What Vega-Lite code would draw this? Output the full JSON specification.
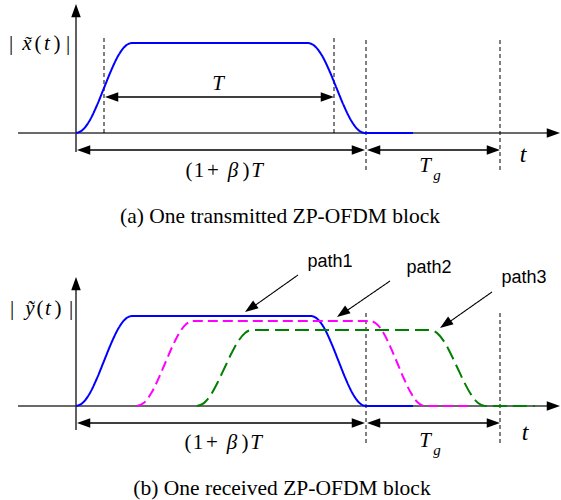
{
  "$schema": "https://vega.github.io/schema/vega-lite/v6.json",
  "width": 561,
  "height": 500,
  "padding": 0,
  "autosize": {"type": "fit", "contains": "padding"},
  "background": "white",
  "config": {"view": {"stroke": null}},
  "resolve": {"scale": {"color": "independent", "strokeDash": "independent", "strokeWidth": "independent", "angle": "independent"}},
  "datasets": {
    "curves": [
      {"s": "a_blue", "x": 76, "y": 133}, {"s": "a_blue", "x": 83, "y": 129.6}, {"s": "a_blue", "x": 90, "y": 119.9}, {"s": "a_blue", "x": 97, "y": 105.2}, {"s": "a_blue", "x": 104, "y": 88}, {"s": "a_blue", "x": 111, "y": 70.8}, {"s": "a_blue", "x": 118, "y": 56.1}, {"s": "a_blue", "x": 125, "y": 46.4}, {"s": "a_blue", "x": 132, "y": 43},
      {"s": "a_blue", "x": 308, "y": 43}, {"s": "a_blue", "x": 315.1, "y": 46.4}, {"s": "a_blue", "x": 322.3, "y": 56.1}, {"s": "a_blue", "x": 329.4, "y": 70.8}, {"s": "a_blue", "x": 336.5, "y": 88}, {"s": "a_blue", "x": 343.6, "y": 105.2}, {"s": "a_blue", "x": 350.8, "y": 119.9}, {"s": "a_blue", "x": 357.9, "y": 129.6}, {"s": "a_blue", "x": 365, "y": 133}, {"s": "a_blue", "x": 413, "y": 133},
      {"s": "b_blue", "x": 76, "y": 406}, {"s": "b_blue", "x": 83, "y": 402.6}, {"s": "b_blue", "x": 90, "y": 392.9}, {"s": "b_blue", "x": 97, "y": 378.2}, {"s": "b_blue", "x": 104, "y": 361}, {"s": "b_blue", "x": 111, "y": 343.8}, {"s": "b_blue", "x": 118, "y": 329.1}, {"s": "b_blue", "x": 125, "y": 319.4}, {"s": "b_blue", "x": 132, "y": 316},
      {"s": "b_blue", "x": 311, "y": 316}, {"s": "b_blue", "x": 317.9, "y": 319.4}, {"s": "b_blue", "x": 324.8, "y": 329.1}, {"s": "b_blue", "x": 331.6, "y": 343.8}, {"s": "b_blue", "x": 338.5, "y": 361}, {"s": "b_blue", "x": 345.4, "y": 378.2}, {"s": "b_blue", "x": 352.3, "y": 392.9}, {"s": "b_blue", "x": 359.1, "y": 402.6}, {"s": "b_blue", "x": 366, "y": 406}, {"s": "b_blue", "x": 413, "y": 406},
      {"s": "b_mag", "x": 137, "y": 406}, {"s": "b_mag", "x": 144, "y": 402.8}, {"s": "b_mag", "x": 151, "y": 393.6}, {"s": "b_mag", "x": 158, "y": 379.7}, {"s": "b_mag", "x": 165, "y": 363.5}, {"s": "b_mag", "x": 172, "y": 347.3}, {"s": "b_mag", "x": 179, "y": 333.4}, {"s": "b_mag", "x": 186, "y": 324.2}, {"s": "b_mag", "x": 193, "y": 321},
      {"s": "b_mag", "x": 370, "y": 321}, {"s": "b_mag", "x": 376.9, "y": 324.2}, {"s": "b_mag", "x": 383.8, "y": 333.4}, {"s": "b_mag", "x": 390.6, "y": 347.3}, {"s": "b_mag", "x": 397.5, "y": 363.5}, {"s": "b_mag", "x": 404.4, "y": 379.7}, {"s": "b_mag", "x": 411.3, "y": 393.6}, {"s": "b_mag", "x": 418.1, "y": 402.8}, {"s": "b_mag", "x": 425, "y": 406}, {"s": "b_mag", "x": 468, "y": 406},
      {"s": "b_green", "x": 197, "y": 406}, {"s": "b_green", "x": 203.9, "y": 403.1}, {"s": "b_green", "x": 210.8, "y": 394.9}, {"s": "b_green", "x": 217.6, "y": 382.5}, {"s": "b_green", "x": 224.5, "y": 368}, {"s": "b_green", "x": 231.4, "y": 353.5}, {"s": "b_green", "x": 238.3, "y": 341.1}, {"s": "b_green", "x": 245.1, "y": 332.9}, {"s": "b_green", "x": 252, "y": 330},
      {"s": "b_green", "x": 430, "y": 330}, {"s": "b_green", "x": 436.9, "y": 332.9}, {"s": "b_green", "x": 443.8, "y": 341.1}, {"s": "b_green", "x": 450.6, "y": 353.5}, {"s": "b_green", "x": 457.5, "y": 368}, {"s": "b_green", "x": 464.4, "y": 382.5}, {"s": "b_green", "x": 471.3, "y": 394.9}, {"s": "b_green", "x": 478.1, "y": 403.1}, {"s": "b_green", "x": 485, "y": 406}, {"s": "b_green", "x": 535, "y": 406}
    ],
    "segs": [
      {"k": "axis", "x": 76, "y": 152, "x2": 76, "y2": 16},
      {"k": "axis", "x": 18, "y": 133, "x2": 547, "y2": 133},
      {"k": "dash", "x": 104, "y": 38, "x2": 104, "y2": 133},
      {"k": "dash", "x": 334, "y": 38, "x2": 334, "y2": 133},
      {"k": "dash", "x": 366, "y": 40, "x2": 366, "y2": 170},
      {"k": "dash", "x": 500, "y": 40, "x2": 500, "y2": 170},
      {"k": "arrow", "x": 110, "y": 97, "x2": 328, "y2": 97},
      {"k": "arrow", "x": 82, "y": 150, "x2": 360, "y2": 150},
      {"k": "arrow", "x": 372, "y": 150, "x2": 494, "y2": 150},
      {"k": "axis", "x": 76, "y": 430, "x2": 76, "y2": 289},
      {"k": "axis", "x": 18, "y": 406, "x2": 547, "y2": 406},
      {"k": "dash", "x": 366, "y": 313, "x2": 366, "y2": 443},
      {"k": "dash", "x": 500, "y": 313, "x2": 500, "y2": 443},
      {"k": "arrow", "x": 82, "y": 423, "x2": 360, "y2": 423},
      {"k": "arrow", "x": 372, "y": 423, "x2": 494, "y2": 423},
      {"k": "ptr", "x": 298, "y": 275, "x2": 250, "y2": 309},
      {"k": "ptr", "x": 390, "y": 281, "x2": 342, "y2": 314},
      {"k": "ptr", "x": 492, "y": 292, "x2": 445, "y2": 325}
    ],
    "heads": [
      {"d": "up", "x": 76, "y": 4},
      {"d": "right", "x": 560, "y": 133},
      {"d": "left", "x": 105, "y": 97},
      {"d": "right", "x": 334, "y": 97},
      {"d": "left", "x": 77, "y": 150},
      {"d": "right", "x": 365, "y": 150},
      {"d": "left", "x": 367, "y": 150},
      {"d": "right", "x": 500, "y": 150},
      {"d": "up", "x": 76, "y": 277},
      {"d": "right", "x": 560, "y": 406},
      {"d": "left", "x": 77, "y": 423},
      {"d": "right", "x": 365, "y": 423},
      {"d": "left", "x": 367, "y": 423},
      {"d": "right", "x": 500, "y": 423},
      {"d": "diag", "x": 245, "y": 312},
      {"d": "diag", "x": 337, "y": 317},
      {"d": "diag", "x": 440, "y": 328}
    ],
    "texts": [
      {"f": "up", "x": 11, "y": 50, "t": "|"},
      {"f": "up", "x": 38, "y": 50, "t": "("},
      {"f": "up", "x": 57, "y": 50, "t": ")"},
      {"f": "up", "x": 68, "y": 50, "t": "|"},
      {"f": "it", "x": 27, "y": 50, "t": "x̃"},
      {"f": "it", "x": 47, "y": 50, "t": "t"},
      {"f": "it", "x": 218, "y": 90, "t": "T"},
      {"f": "up", "x": 189, "y": 177, "t": "("},
      {"f": "up", "x": 199, "y": 177, "t": "1"},
      {"f": "up", "x": 213, "y": 177, "t": "+"},
      {"f": "it", "x": 233, "y": 177, "t": "β"},
      {"f": "up", "x": 246, "y": 177, "t": ")"},
      {"f": "it", "x": 257, "y": 177, "t": "T"},
      {"f": "it", "x": 425, "y": 172, "t": "T"},
      {"f": "sub", "x": 437, "y": 180, "t": "g"},
      {"f": "big", "x": 523, "y": 162, "t": "t"},
      {"f": "up", "x": 12, "y": 315, "t": "|"},
      {"f": "up", "x": 40, "y": 315, "t": "("},
      {"f": "up", "x": 58, "y": 315, "t": ")"},
      {"f": "up", "x": 71, "y": 315, "t": "|"},
      {"f": "it", "x": 30, "y": 315, "t": "ỹ"},
      {"f": "it", "x": 48, "y": 315, "t": "t"},
      {"f": "up", "x": 188, "y": 449, "t": "("},
      {"f": "up", "x": 198, "y": 449, "t": "1"},
      {"f": "up", "x": 212, "y": 449, "t": "+"},
      {"f": "it", "x": 232, "y": 449, "t": "β"},
      {"f": "up", "x": 245, "y": 449, "t": ")"},
      {"f": "it", "x": 256, "y": 449, "t": "T"},
      {"f": "it", "x": 425, "y": 447, "t": "T"},
      {"f": "sub", "x": 437, "y": 455, "t": "g"},
      {"f": "big", "x": 525, "y": 440, "t": "t"},
      {"f": "sans", "x": 330, "y": 267, "t": "path1"},
      {"f": "sans", "x": 429, "y": 273, "t": "path2"},
      {"f": "sans", "x": 524, "y": 283, "t": "path3"},
      {"f": "cap", "x": 280, "y": 223, "t": "(a)  One transmitted ZP-OFDM block"},
      {"f": "cap", "x": 282, "y": 495, "t": "(b)  One received ZP-OFDM block"}
    ]
  },
  "layer": [
    {
      "data": {"name": "segs"},
      "mark": {"type": "rule"},
      "encoding": {
        "x": {"field": "x", "type": "quantitative", "scale": {"domain": [0, 561], "nice": false, "zero": false}, "axis": null},
        "y": {"field": "y", "type": "quantitative", "scale": {"domain": [0, 500], "reverse": true, "nice": false, "zero": false}, "axis": null},
        "x2": {"field": "x2"},
        "y2": {"field": "y2"},
        "color": {"field": "k", "type": "nominal", "scale": {"domain": ["axis", "dash", "arrow", "ptr"], "range": ["#3a3a3a", "#000000", "#000000", "#000000"]}, "legend": null},
        "strokeDash": {"field": "k", "type": "nominal", "scale": {"domain": ["axis", "dash", "arrow", "ptr"], "range": [[1, 0], [4, 3], [1, 0], [1, 0]]}, "legend": null},
        "strokeWidth": {"field": "k", "type": "nominal", "scale": {"type": "ordinal", "domain": ["axis", "dash", "arrow", "ptr"], "range": [1.6, 1, 1.3, 1.1]}, "legend": null}
      }
    },
    {
      "data": {"name": "curves"},
      "mark": {"type": "line", "interpolate": "monotone", "strokeWidth": 2},
      "encoding": {
        "x": {"field": "x", "type": "quantitative"},
        "y": {"field": "y", "type": "quantitative"},
        "detail": {"field": "s"},
        "color": {"field": "s", "type": "nominal", "scale": {"domain": ["a_blue", "b_blue", "b_mag", "b_green"], "range": ["#0000ff", "#0000ff", "#ff00ff", "#008000"]}, "legend": null},
        "strokeDash": {"field": "s", "type": "nominal", "scale": {"domain": ["a_blue", "b_blue", "b_mag", "b_green"], "range": [[1, 0], [1, 0], [10, 5], [14, 6]]}, "legend": null}
      }
    },
    {
      "data": {"name": "heads"},
      "mark": {"type": "point", "shape": "M0,0L-1,-0.36L-1,0.36Z", "filled": true, "color": "#000000", "opacity": 1, "size": 700, "strokeWidth": 0},
      "encoding": {
        "x": {"field": "x", "type": "quantitative"},
        "y": {"field": "y", "type": "quantitative"},
        "angle": {"field": "d", "type": "nominal", "scale": {"type": "ordinal", "domain": ["right", "left", "up", "diag"], "range": [0, 180, 270, 145]}, "legend": null}
      }
    },
    {
      "data": {"name": "texts"},
      "transform": [{"filter": "datum.f == 'up'"}],
      "mark": {"type": "text", "font": "Liberation Serif", "fontSize": 21, "align": "center", "baseline": "alphabetic", "color": "#000000"},
      "encoding": {"x": {"field": "x", "type": "quantitative"}, "y": {"field": "y", "type": "quantitative"}, "text": {"field": "t"}}
    },
    {
      "data": {"name": "texts"},
      "transform": [{"filter": "datum.f == 'it'"}],
      "mark": {"type": "text", "font": "Liberation Serif", "fontStyle": "italic", "fontSize": 21, "align": "center", "baseline": "alphabetic", "color": "#000000"},
      "encoding": {"x": {"field": "x", "type": "quantitative"}, "y": {"field": "y", "type": "quantitative"}, "text": {"field": "t"}}
    },
    {
      "data": {"name": "texts"},
      "transform": [{"filter": "datum.f == 'big'"}],
      "mark": {"type": "text", "font": "Liberation Serif", "fontStyle": "italic", "fontSize": 24, "align": "center", "baseline": "alphabetic", "color": "#000000"},
      "encoding": {"x": {"field": "x", "type": "quantitative"}, "y": {"field": "y", "type": "quantitative"}, "text": {"field": "t"}}
    },
    {
      "data": {"name": "texts"},
      "transform": [{"filter": "datum.f == 'sub'"}],
      "mark": {"type": "text", "font": "Liberation Serif", "fontStyle": "italic", "fontSize": 15, "align": "center", "baseline": "alphabetic", "color": "#000000"},
      "encoding": {"x": {"field": "x", "type": "quantitative"}, "y": {"field": "y", "type": "quantitative"}, "text": {"field": "t"}}
    },
    {
      "data": {"name": "texts"},
      "transform": [{"filter": "datum.f == 'sans'"}],
      "mark": {"type": "text", "font": "Liberation Sans", "fontSize": 18, "align": "center", "baseline": "alphabetic", "color": "#000000"},
      "encoding": {"x": {"field": "x", "type": "quantitative"}, "y": {"field": "y", "type": "quantitative"}, "text": {"field": "t"}}
    },
    {
      "data": {"name": "texts"},
      "transform": [{"filter": "datum.f == 'cap'"}],
      "mark": {"type": "text", "font": "Liberation Serif", "fontSize": 21.5, "align": "center", "baseline": "alphabetic", "color": "#000000"},
      "encoding": {"x": {"field": "x", "type": "quantitative"}, "y": {"field": "y", "type": "quantitative"}, "text": {"field": "t"}}
    }
  ]
}
